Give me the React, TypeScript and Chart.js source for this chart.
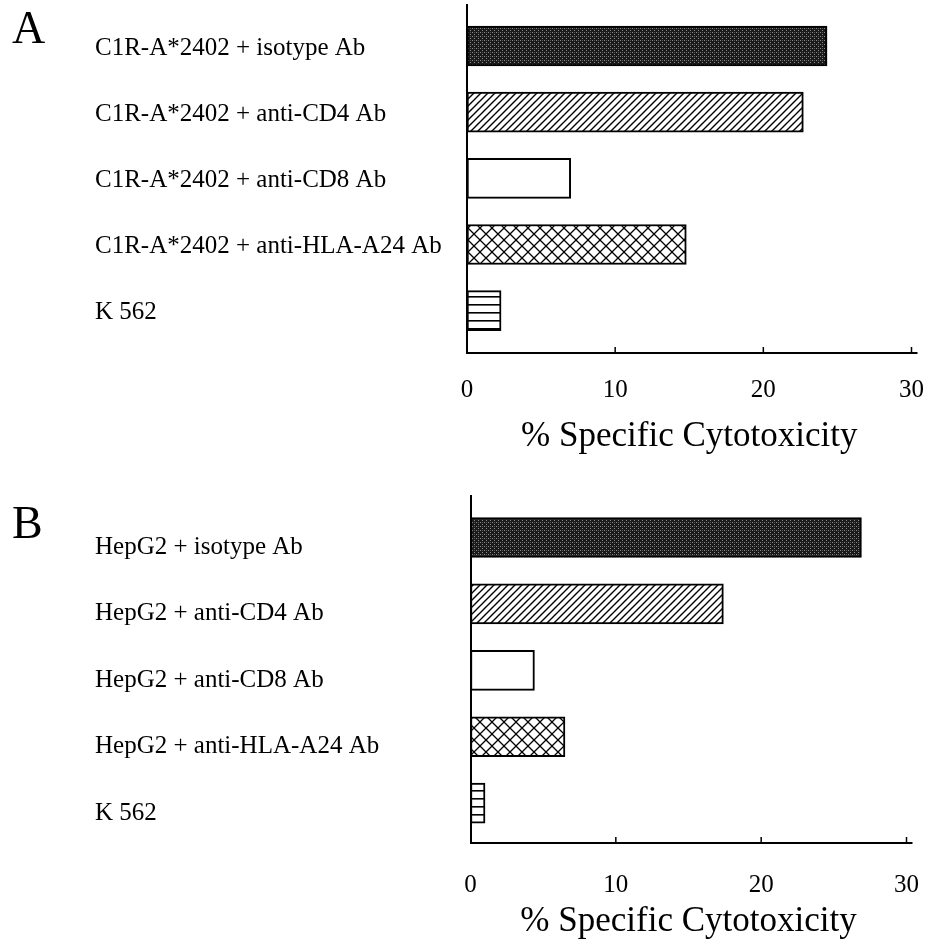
import React, { useEffect, useRef } from 'react';
import { Chart, registerables } from 'chart.js';

Chart.register(...registerables);

const panelALabels = [
  'C1R-A*2402 + isotype Ab',
  'C1R-A*2402 + anti-CD4 Ab',
  'C1R-A*2402 + anti-CD8 Ab',
  'C1R-A*2402 + anti-HLA-A24 Ab',
  'K 562',
];
const panelAValues = [24.3, 22.7, 7.0, 14.8, 2.3];

const panelBLabels = [
  'HepG2 + isotype Ab',
  'HepG2 + anti-CD4 Ab',
  'HepG2 + anti-CD8 Ab',
  'HepG2 + anti-HLA-A24 Ab',
  'K 562',
];
const panelBValues = [26.9, 17.4, 4.4, 6.5, 1.0];

const xTickValues = [0, 10, 20, 30];
const axisTitle = '% Specific Cytotoxicity';
const panelLetters = ['A', 'B'];

const SERIF = '"Liberation Serif", "Times New Roman", Times, serif';

function makeTile(size: number, draw: (c: CanvasRenderingContext2D) => void) {
  const cv = document.createElement('canvas');
  cv.width = size;
  cv.height = size;
  const c = cv.getContext('2d')!;
  draw(c);
  return c.createPattern(cv, 'repeat');
}

function makePatterns() {
  const dark = makeTile(4, (c) => {
    c.fillStyle = '#1a1a1a';
    c.fillRect(0, 0, 4, 4);
    c.fillStyle = '#8a8a8a';
    c.fillRect(0, 0, 1, 1);
    c.fillRect(2, 2, 1, 1);
    c.fillStyle = '#555';
    c.fillRect(2, 0, 1, 1);
  });
  const diag = makeTile(7, (c) => {
    c.fillStyle = '#fff';
    c.fillRect(0, 0, 7, 7);
    c.strokeStyle = '#000';
    c.lineWidth = 1.4;
    c.beginPath();
    c.moveTo(-1, 8);
    c.lineTo(8, -1);
    c.moveTo(-1, 1);
    c.lineTo(1, -1);
    c.moveTo(6, 8);
    c.lineTo(8, 6);
    c.stroke();
  });
  const cross = makeTile(12, (c) => {
    c.fillStyle = '#fff';
    c.fillRect(0, 0, 12, 12);
    c.strokeStyle = '#000';
    c.lineWidth = 1.3;
    c.beginPath();
    c.moveTo(-1, -1);
    c.lineTo(13, 13);
    c.moveTo(-1, 13);
    c.lineTo(13, -1);
    c.stroke();
  });
  const horiz = makeTile(8, (c) => {
    c.fillStyle = '#fff';
    c.fillRect(0, 0, 8, 8);
    c.fillStyle = '#000';
    c.fillRect(0, 0, 8, 1.6);
  });
  return [dark, diag, '#ffffff', cross, horiz];
}

const panelPlugin = {
  id: 'panelExtras',
  afterDraw(chart: any, _args: any, opts: any) {
    const { ctx, chartArea } = chart;
    const x = chart.scales.x;
    ctx.save();
    ctx.strokeStyle = '#000';
    ctx.lineWidth = 1.5;
    x.ticks.forEach((t: any) => {
      if (t.value === 0) return;
      const px = x.getPixelForValue(t.value);
      ctx.beginPath();
      ctx.moveTo(px, chartArea.bottom);
      ctx.lineTo(px, chartArea.bottom - 6);
      ctx.stroke();
    });
    ctx.lineWidth = 2;
    ctx.beginPath();
    ctx.moveTo(chartArea.right, chartArea.bottom);
    ctx.lineTo(chartArea.right + 6, chartArea.bottom);
    ctx.stroke();
    ctx.fillStyle = '#000';
    ctx.font = `46px ${SERIF}`;
    ctx.textAlign = 'left';
    ctx.textBaseline = 'alphabetic';
    ctx.fillText(opts.letter, opts.letterX, opts.letterY);
    ctx.restore();
  },
};

type PanelSpec = {
  labels: string[];
  values: number[];
  letter: string;
  letterX: number;
  letterY: number;
  padLeft: number;
  padRight: number;
  padTop: number;
  yWidth: number;
  xHeight: number;
  yMin: number;
  yMax: number;
  tickPad: number;
  titlePad: number;
  labelOffset: number;
};

function buildChart(canvas: HTMLCanvasElement, spec: PanelSpec) {
  const patterns = makePatterns();
  return new Chart(canvas, {
    type: 'bar',
    data: {
      datasets: [
        {
          data: spec.values.map((v, i) => ({ x: v, y: i })),
          backgroundColor: patterns as any,
          borderColor: '#000',
          borderWidth: 2,
          borderSkipped: false,
          barThickness: 40,
        },
      ],
    },
    options: {
      indexAxis: 'y',
      responsive: false,
      animation: false,
      layout: {
        padding: { left: spec.padLeft, right: spec.padRight, top: spec.padTop, bottom: 0 },
      },
      plugins: {
        legend: { display: false },
        tooltip: { enabled: false },
        panelExtras: {
          letter: spec.letter,
          letterX: spec.letterX,
          letterY: spec.letterY,
        },
      } as any,
      scales: {
        y: {
          type: 'linear',
          reverse: true,
          offset: false,
          grace: 0,
          min: spec.yMin,
          max: spec.yMax,
          grid: { display: false, drawTicks: false, offset: false },
          border: { display: true, color: '#000', width: 2 },
          afterBuildTicks: (scale: any) => {
            scale.ticks = spec.labels.map((_, i) => ({ value: i }));
          },
          afterFit: (scale: any) => {
            scale.width = spec.yWidth;
          },
          ticks: {
            crossAlign: 'far',
            padding: 0,
            autoSkip: false,
            labelOffset: spec.labelOffset,
            color: '#000',
            font: { family: SERIF, size: 25, lineHeight: 0.3 },
            callback: (value: any) => spec.labels[value as number] ?? '',
          },
        },
        x: {
          type: 'linear',
          min: 0,
          max: 30,
          grid: { display: false, drawTicks: false },
          border: { display: true, color: '#000', width: 2 },
          afterBuildTicks: (scale: any) => {
            scale.ticks = xTickValues.map((v) => ({ value: v }));
          },
          afterFit: (scale: any) => {
            scale.height = spec.xHeight;
          },
          ticks: {
            padding: spec.tickPad,
            maxRotation: 0,
            autoSkip: false,
            color: '#000',
            font: { family: SERIF, size: 25 },
          },
          title: {
            display: true,
            text: axisTitle,
            color: '#000',
            font: { family: SERIF, size: 35 },
            padding: { top: 0, bottom: spec.titlePad },
          },
        },
      },
    },
    plugins: [panelPlugin],
  } as any);
}

const specA: PanelSpec = {
  labels: panelALabels,
  values: panelAValues,
  letter: panelLetters[0],
  letterX: 12,
  letterY: 43,
  padLeft: 95,
  padRight: 28,
  padTop: 5,
  yWidth: 372,
  xHeight: 117,
  yMin: -0.62,
  yMax: 4.64,
  tickPad: 22,
  titlePad: 12,
  labelOffset: 2,
};

const specB: PanelSpec = {
  labels: panelBLabels,
  values: panelBValues,
  letter: panelLetters[1],
  letterX: 12,
  letterY: 68,
  padLeft: 95,
  padRight: 26,
  padTop: 26,
  yWidth: 375.5,
  xHeight: 100,
  yMin: -0.625,
  yMax: 4.6,
  tickPad: 27,
  titlePad: 0,
  labelOffset: 10,
};

export default function App() {
  const refA = useRef<HTMLCanvasElement>(null);
  const refB = useRef<HTMLCanvasElement>(null);

  useEffect(() => {
    const a = buildChart(refA.current!, specA);
    const b = buildChart(refB.current!, specB);
    return () => {
      a.destroy();
      b.destroy();
    };
  }, []);

  return (
    <div style={{ position: 'absolute', left: 0, top: 0, width: 946, height: 943, background: '#fff' }}>
      <canvas
        ref={refA}
        width={946}
        height={470}
        style={{ position: 'absolute', left: 0, top: 0, width: 946, height: 470 }}
      />
      <canvas
        ref={refB}
        width={946}
        height={473}
        style={{ position: 'absolute', left: 0, top: 470, width: 946, height: 473 }}
      />
    </div>
  );
}
